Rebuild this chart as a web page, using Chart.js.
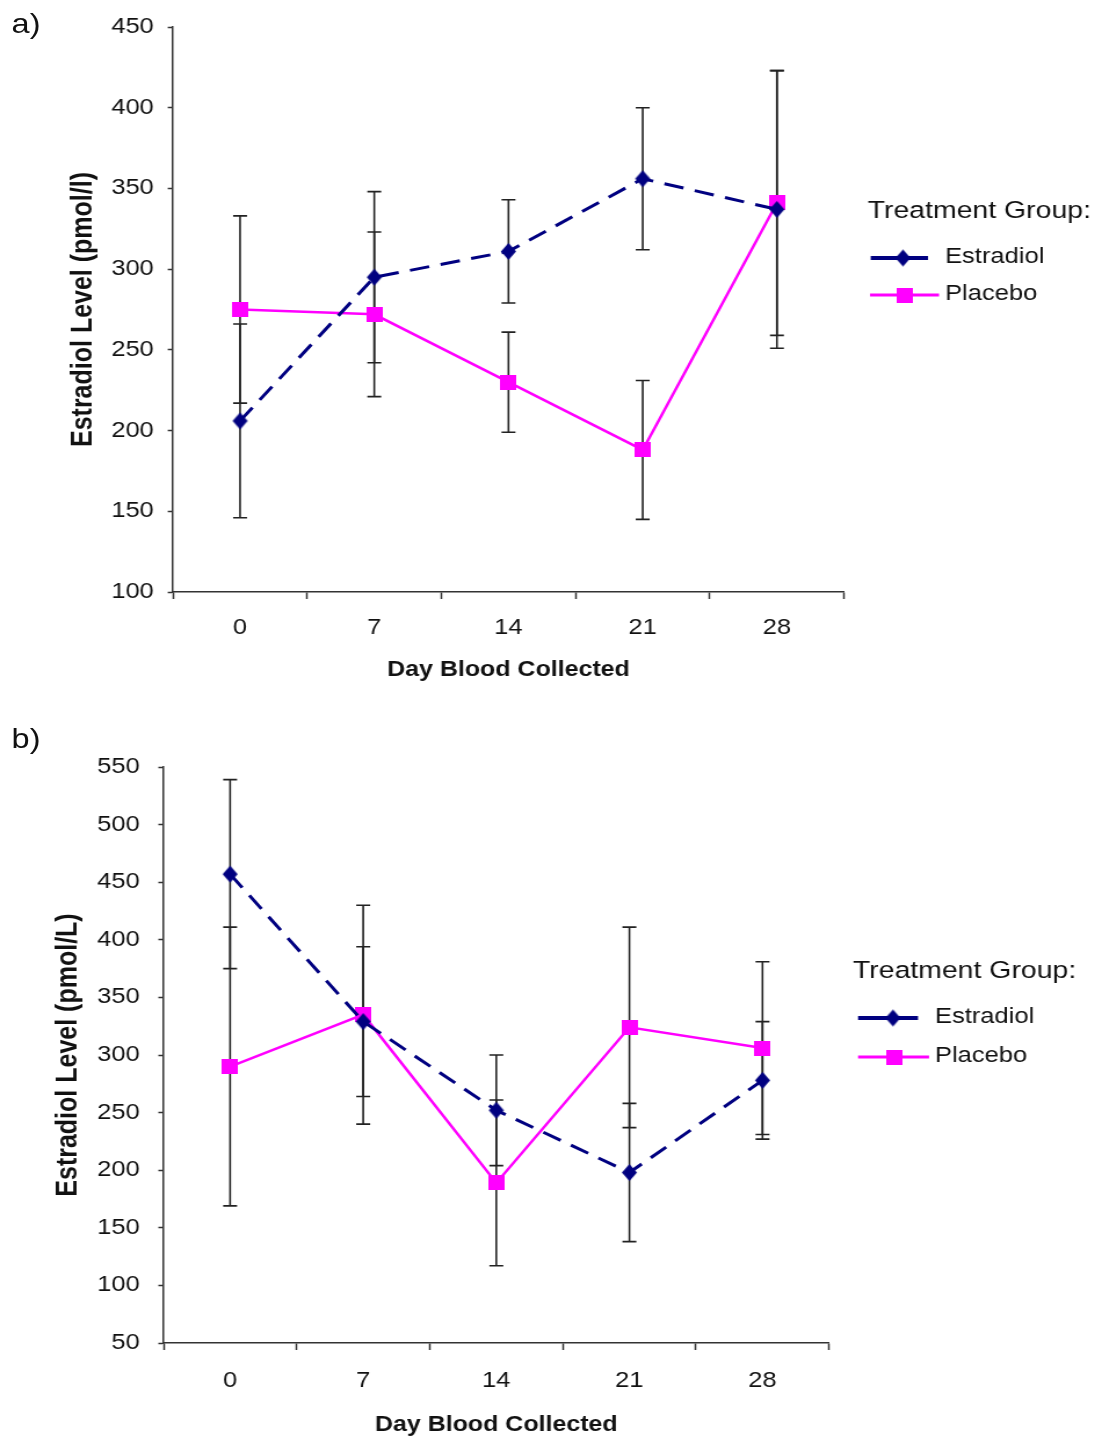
<!DOCTYPE html>
<html>
<head>
<meta charset="utf-8">
<script src="https://cdn.jsdelivr.net/npm/chart.js@4.4.1/dist/chart.umd.min.js"></script>
<style>
  html, body { margin: 0; padding: 0; background: #fff; }
  /* the figure is laid out on a narrower sheet and widened horizontally */
  #page { position: absolute; left: 0; top: 0; width: 951px; height: 1441px;
          transform: scaleX(1.16); transform-origin: 0 0; }
  .panel { position: absolute; left: 0; width: 951px; }
  #wrapA { top: 0; height: 705px; }
  #wrapB { top: 715px; height: 726px; }
  .tag { position: absolute; left: 10px; font: 28px/28px "Liberation Sans", Arial, sans-serif; color: #111; }
</style>
</head>
<body>
<div id="page">
  <div class="panel" id="wrapA"><canvas id="chartA"></canvas></div>
  <div class="panel" id="wrapB"><canvas id="chartB"></canvas></div>
  <div class="tag" style="top:10px">a)</div>
  <div class="tag" style="top:725px">b)</div>
</div>
<script>
// ---- data ----
const days = ['0', '7', '14', '21', '28'];
const seriesNames = ['Estradiol', 'Placebo'];
const legendTitle = 'Treatment Group:';
const xTitle = 'Day Blood Collected';
const yTitleA = 'Estradiol Level (pmol/l)';
const yTitleB = 'Estradiol Level (pmol/L)';

const yTicksA = [100, 150, 200, 250, 300, 350, 400, 450];
const yTicksB = [50, 100, 150, 200, 250, 300, 350, 400, 450, 500, 550];

// panel a) means and error half-widths
const estradiolA    = [206, 295, 311, 356, 337];
const estradiolErrA = [60, 53, 32, 44, 86];
const placeboA      = [275, 272, 230, 188, 341];
const placeboErrA   = [58, 51, 31, 43, 82];

// panel b)
const estradiolB    = [457, 329, 252, 198, 278];
const estradiolErrB = [82, 65, 48, 60, 51];
const placeboB      = [290, 335, 189, 324, 306];
const placeboErrB   = [121, 95, 72, 87, 75];

// ---- styling ----
const NAVY = '#000080';
const MAGENTA = '#ff00ff';
const FONT = '"Liberation Sans", Arial, Helvetica, sans-serif';
Chart.defaults.font.family = FONT;
Chart.defaults.color = '#111';

function diamondImage(color) {
  const c = document.createElement('canvas');
  c.width = 15; c.height = 19;
  const g = c.getContext('2d');
  g.fillStyle = color;
  g.beginPath();
  g.moveTo(7.5, 1); g.lineTo(14, 9.5); g.lineTo(7.5, 18); g.lineTo(1, 9.5);
  g.closePath(); g.fill();
  return c;
}
function squareImage(color) {
  const c = document.createElement('canvas');
  c.width = 14; c.height = 15;
  const g = c.getContext('2d');
  g.fillStyle = color;
  g.fillRect(0, 0, 14, 15);
  return c;
}
const diamond = diamondImage(NAVY);
const square = squareImage(MAGENTA);

// vertical error bars with caps, drawn under the lines and markers
const errorBars = {
  id: 'errorBars',
  beforeDatasetsDraw(chart, args, opts) {
    const { ctx, scales: { x, y } } = chart;
    ctx.save();
    ctx.strokeStyle = opts.color;
    ctx.lineWidth = opts.width;
    chart.data.datasets.forEach(ds => {
      ds.errors.forEach((e, i) => {
        const px = x.getPixelForValue(i);
        const top = y.getPixelForValue(ds.data[i] + e);
        const bot = y.getPixelForValue(ds.data[i] - e);
        ctx.beginPath();
        ctx.moveTo(px, top); ctx.lineTo(px, bot);
        ctx.moveTo(px - opts.cap, top); ctx.lineTo(px + opts.cap, top);
        ctx.moveTo(px - opts.cap, bot); ctx.lineTo(px + opts.cap, bot);
        ctx.stroke();
      });
    });
    ctx.restore();
  }
};

// legend box at the right: title, then a line + marker sample per series
const sideLegend = {
  id: 'sideLegend',
  afterDraw(chart, args, o) {
    const ctx = chart.ctx;
    ctx.save();
    ctx.fillStyle = '#111';
    ctx.textBaseline = 'alphabetic';
    ctx.textAlign = 'left';
    ctx.font = o.titleSize + 'px ' + FONT;
    ctx.fillText(o.title, o.titleX, o.titleY);
    ctx.font = o.itemSize + 'px ' + FONT;
    chart.data.datasets.forEach((ds, i) => {
      const it = o.items[i];
      ctx.strokeStyle = ds.borderColor;
      ctx.lineWidth = it.lw;
      ctx.beginPath();
      ctx.moveTo(it.x0, it.y); ctx.lineTo(it.x1, it.y);
      ctx.stroke();
      const img = ds.pointStyle;
      ctx.drawImage(img, it.mx - img.width / 2, it.y - img.height / 2);
      ctx.fillStyle = '#111';
      ctx.fillText(ds.label, o.textX, it.y + o.textDy);
    });
    ctx.restore();
  }
};

function makeChart(id, cfg) {
  const yt = cfg.yTicks;
  return new Chart(document.getElementById(id), {
    type: 'line',
    data: {
      labels: days,
      datasets: [
        { label: seriesNames[0], data: cfg.est, errors: cfg.estErr,
          borderColor: NAVY, backgroundColor: NAVY, borderWidth: 3,
          borderDash: [17, 10], pointStyle: diamond, pointRadius: 7, tension: 0 },
        { label: seriesNames[1], data: cfg.pla, errors: cfg.plaErr,
          borderColor: MAGENTA, backgroundColor: MAGENTA, borderWidth: 2.5,
          pointStyle: square, pointRadius: 7, tension: 0 }
      ]
    },
    options: {
      responsive: true,
      maintainAspectRatio: false,
      animation: false,
      events: [],
      layout: { padding: cfg.padding },
      plugins: {
        legend: { display: false },
        tooltip: { enabled: false },
        errorBars: { color: '#222', width: 1.6, cap: 6 },
        sideLegend: cfg.legend
      },
      scales: {
        x: {
          type: 'category',
          offset: true,
          grid: { display: true, drawOnChartArea: false, offset: true,
                  tickLength: 7, tickColor: '#333', tickWidth: 1.5 },
          border: { display: true, color: '#333', width: 1.5 },
          ticks: { font: { size: 22 }, padding: cfg.xTickPad, color: '#111' },
          title: { display: true, text: xTitle, font: { size: 21.5, weight: 'bold' },
                   padding: { top: 0, bottom: cfg.xTitlePad }, color: '#111' },
          afterFit: s => { s.height = cfg.xHeight; }
        },
        y: {
          min: yt[0], max: yt[yt.length - 1],
          grid: { display: true, drawOnChartArea: false,
                  tickLength: 4.5, tickColor: '#333', tickWidth: 1.5 },
          border: { display: true, color: '#333', width: 1.5 },
          ticks: { stepSize: yt[1] - yt[0], font: { size: 22 }, padding: cfg.yTickPad, color: '#111' },
          title: { display: true, text: cfg.yTitle, font: { size: 25, weight: 'bold' },
                   padding: { top: cfg.yTitlePad, bottom: 0 }, color: '#111' },
          afterFit: s => { s.width = cfg.yWidth; }
        }
      }
    },
    plugins: [errorBars, sideLegend]
  });
}

makeChart('chartA', {
  est: estradiolA, estErr: estradiolErrA, pla: placeboA, plaErr: placeboErrA,
  yTicks: yTicksA, yTitle: yTitleA,
  padding: { left: 0, right: 223.4, top: 27, bottom: 13 },
  yWidth: 149.1, xHeight: 100,
  xTickPad: 16, xTitlePad: 9, yTickPad: 12, yTitlePad: 57,
  legend: {
    title: legendTitle, titleSize: 24.5, itemSize: 22,
    titleX: 748, titleY: 218, textX: 814.7, textDy: 5,
    items: [
      { x0: 750.6, x1: 800, mx: 778.4, y: 258, lw: 4 },
      { x0: 750, x1: 809.5, mx: 780, y: 295, lw: 3 }
    ]
  }
});

makeChart('chartB', {
  est: estradiolB, estErr: estradiolErrB, pla: placeboB, plaErr: placeboErrB,
  yTicks: yTicksB, yTitle: yTitleB,
  padding: { left: 0, right: 236.3, top: 52, bottom: 0 },
  yWidth: 141, xHeight: 98,
  xTickPad: 18, xTitlePad: 3, yTickPad: 16, yTitlePad: 44,
  legend: {
    title: legendTitle, titleSize: 24.5, itemSize: 22,
    titleX: 735.3, titleY: 262.7, textX: 806, textDy: 5,
    items: [
      { x0: 739.7, x1: 791.4, mx: 769.8, y: 303, lw: 4 },
      { x0: 739.7, x1: 800.9, mx: 770.7, y: 342, lw: 3 }
    ]
  }
});
</script>
</body>
</html>
